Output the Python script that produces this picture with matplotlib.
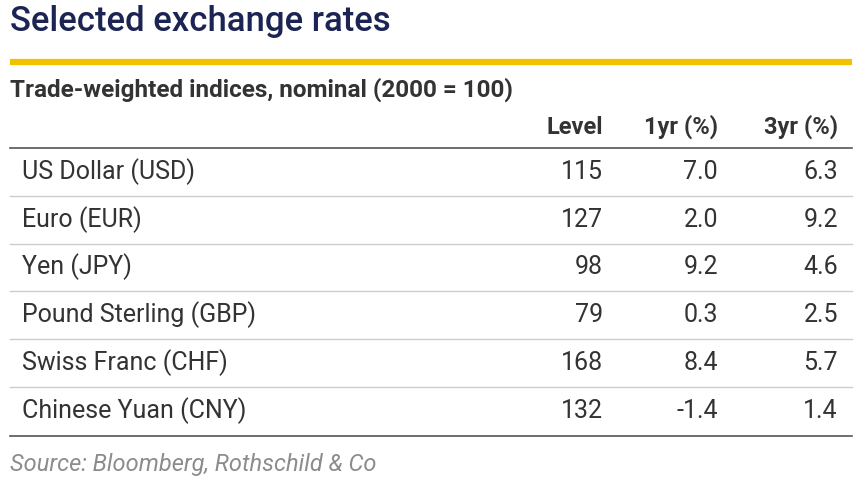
import matplotlib.pyplot as plt

TITLE = "Selected exchange rates"
SUBTITLE = "Trade-weighted indices, nominal (2000 = 100)"
HEADERS = ["Level", "1yr (%)", "3yr (%)"]
CURRENCIES = ["US Dollar (USD)", "Euro (EUR)", "Yen (JPY)", "Pound Sterling (GBP)",
              "Swiss Franc (CHF)", "Chinese Yuan (CNY)"]
LEVEL = ["115", "127", "98", "79", "168", "132"]
ONE_YR = ["7.0", "2.0", "9.2", "0.3", "8.4", "-1.4"]
THREE_YR = ["6.3", "9.2", "4.6", "2.5", "5.7", "1.4"]
SOURCE = "Source: Bloomberg, Rothschild & Co"

NAVY = "#1b2452"
TEXT = "#333333"
plt.rcParams['font.family'] = ['Roboto', 'DejaVu Sans']

fig = plt.figure(figsize=(8.64, 4.84), dpi=100)
ax = fig.add_axes([0, 0, 1, 1])
ax.set_xlim(0, 864)
ax.set_ylim(484, 0)
ax.axis('off')

ax.text(10, 22, TITLE, fontsize=25, fontweight='medium', color=NAVY, va='center', ha='left')
ax.plot([10, 852], [62, 62], color="#f2c200", lw=4.5, solid_capstyle='butt')
ax.text(10, 90, SUBTITLE, fontsize=17.5, fontweight='bold', color=TEXT, va='center')

col_x = [603, 718, 838]
for x, h in zip(col_x, HEADERS):
    ax.text(x, 127, h, fontsize=17, fontweight='bold', color=TEXT, va='center', ha='right')
ax.plot([10, 852], [148, 148], color="#555555", lw=1.2)

row_y = [172, 220, 267, 315, 363, 411]
for i, y in enumerate(row_y):
    ax.text(22, y, CURRENCIES[i], fontsize=18, color=TEXT, va='center')
    for x, v in zip(col_x, [LEVEL[i], ONE_YR[i], THREE_YR[i]]):
        ax.text(x, y, v, fontsize=18, color=TEXT, va='center', ha='right')
    if i < len(row_y) - 1:
        ax.plot([10, 852], [y + 24, y + 24], color="#cccccc", lw=1)
ax.plot([10, 852], [436, 436], color="#555555", lw=1.2)

ax.text(10, 465, SOURCE, fontsize=17, style='italic', color="#8c8c8c", va='center')

fig.savefig("out.png", dpi=100)
